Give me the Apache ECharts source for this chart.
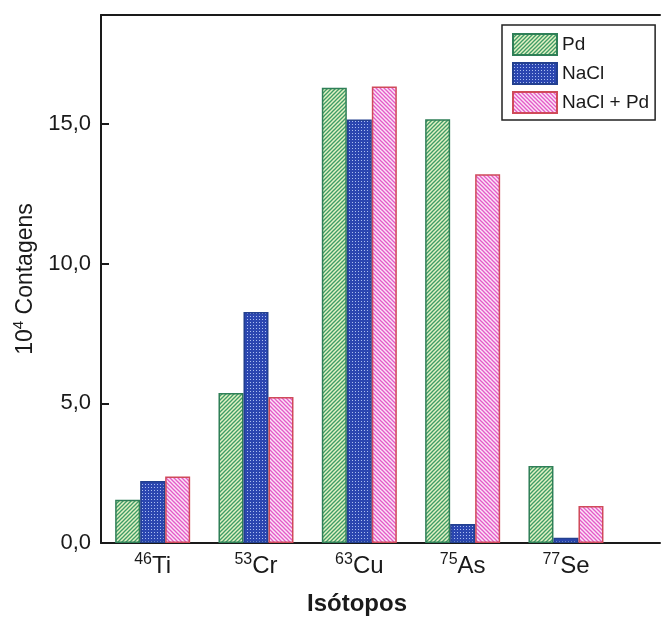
<!DOCTYPE html>
<html>
<head>
<meta charset="utf-8">
<script src="https://cdn.jsdelivr.net/npm/echarts@6/dist/echarts.min.js"></script>
<style>
  html, body { margin: 0; padding: 0; background: #fff; }
  #chart { width: 661px; height: 618px; }
</style>
</head>
<body>
<div id="chart"></div>
<script>
// isotope categories (mass number, symbol)
const isotopes = [['46', 'Ti'], ['53', 'Cr'], ['63', 'Cu'], ['75', 'As'], ['77', 'Se']];
// counts in 10^4
const pd = [1.55, 5.37, 16.3, 15.17, 2.76];
const nacl = [2.22, 8.27, 15.16, 0.68, 0.19];
const naclPd = [2.38, 5.23, 16.34, 13.2, 1.32];
const yTicks = [0, 5, 10, 15];

// small canvas patterns to mimic the hatched fills
function hatch(bg, fg, size, dir, lw) {
  const c = document.createElement('canvas');
  c.width = size; c.height = size;
  const ctx = c.getContext('2d');
  ctx.fillStyle = bg;
  ctx.fillRect(0, 0, size, size);
  ctx.strokeStyle = fg;
  ctx.lineWidth = lw;
  for (let k = -1; k <= 1; k++) {
    ctx.beginPath();
    if (dir === '/') {
      ctx.moveTo(k * size - 1, size + 1);
      ctx.lineTo(k * size + size + 1, -1);
    } else {
      ctx.moveTo(k * size - 1, -1);
      ctx.lineTo(k * size + size + 1, size + 1);
    }
    ctx.stroke();
  }
  return c;
}
function dots(bg, fg) {
  const c = document.createElement('canvas');
  c.width = 3; c.height = 3;
  const ctx = c.getContext('2d');
  ctx.fillStyle = bg;
  ctx.fillRect(0, 0, 3, 3);
  ctx.fillStyle = fg;
  ctx.fillRect(1, 1, 1, 1);
  return c;
}

const greenFill = { image: hatch('#e4f2c4', '#3f9c66', 4, '/', 1.3), repeat: 'repeat' };
const blueFill = { image: dots('#2b46b0', '#a9bdf0'), repeat: 'repeat' };
const pinkFill = { image: hatch('#fbe6f6', '#e45bc8', 4, '\\', 1.3), repeat: 'repeat' };

const toPts = arr => arr.map((v, i) => [i, v]);

const chart = echarts.init(document.getElementById('chart'));

const font = 'Liberation Sans, Arial, sans-serif';
const axisTxt = { color: '#1a1a1a', fontFamily: font };

chart.setOption({
  animation: false,
  title: {
    text: 'Isótopos',
    left: 307,
    top: 592,
    padding: 0,
    textStyle: { fontSize: 24, fontWeight: 'bold', color: '#1a1a1a', fontFamily: font }
  },
  grid: { left: 101, right: 1, top: 15, bottom: 75 },
  legend: {
    left: 502,
    top: 25,
    orient: 'vertical',
    align: 'left',
    icon: 'rect',
    padding: [8, 6, 6, 10],
    itemWidth: 44,
    itemHeight: 21,
    itemGap: 6,
    borderColor: '#222',
    borderWidth: 1.5,
    textStyle: Object.assign({ fontSize: 19, lineHeight: 21 }, axisTxt),
    data: ['Pd', 'NaCl', 'NaCl + Pd']
  },
  xAxis: [
    {
      type: 'value',
      min: -0.5,
      max: 4.91,
      interval: 0.5,
      splitLine: { show: false },
      axisTick: { show: false },
      axisLine: { onZero: false, lineStyle: { color: '#1a1a1a', width: 2 } },
      axisLabel: {
        margin: 9,
        showMinLabel: false,
        showMaxLabel: false,
        formatter: v => {
          const i = Math.round(v);
          if (!isotopes[i] || Math.abs(v - i) > 1e-6) return '';
          return '{s|' + isotopes[i][0] + '}{m|' + isotopes[i][1] + '}';
        },
        rich: {
          s: Object.assign({ fontSize: 16, verticalAlign: 'top', lineHeight: 26 }, axisTxt),
          m: Object.assign({ fontSize: 24, verticalAlign: 'bottom', lineHeight: 26 }, axisTxt)
        }
      }
    },
    {
      type: 'value',
      position: 'top',
      min: -0.5,
      max: 4.91,
      axisLine: { show: true, onZero: false, lineStyle: { color: '#1a1a1a', width: 2 } },
      axisTick: { show: false },
      axisLabel: { show: false },
      splitLine: { show: false }
    }
  ],
  yAxis: {
    type: 'value',
    min: 0,
    max: 18.9,
    interval: 5,
    splitLine: { show: false },
    axisLine: { show: true, onZero: false, lineStyle: { color: '#1a1a1a', width: 2 } },
    axisTick: { show: true, inside: true, length: 8, lineStyle: { color: '#1a1a1a', width: 2 } },
    axisLabel: {
      margin: 10,
      fontSize: 22,
      color: '#1a1a1a',
      fontFamily: font,
      showMaxLabel: false,
      formatter: v => yTicks.indexOf(v) >= 0 ? v.toFixed(1).replace('.', ',') : ''
    },
    name: '{m|10}{s|4}{m| Contagens}',
    nameLocation: 'middle',
    nameGap: 63,
    nameTextStyle: {
      rich: {
        m: Object.assign({ fontSize: 23, verticalAlign: 'bottom', lineHeight: 26 }, axisTxt),
        s: Object.assign({ fontSize: 15, verticalAlign: 'top', lineHeight: 26 }, axisTxt)
      }
    }
  },
  series: [
    {
      name: 'Pd', type: 'bar', barWidth: 25, barGap: '0%',
      itemStyle: { color: greenFill, borderColor: '#2f7f57', borderWidth: 1.5 },
      data: toPts(pd)
    },
    {
      name: 'NaCl', type: 'bar', barWidth: 25, barGap: '0%',
      itemStyle: { color: blueFill, borderColor: '#23408f', borderWidth: 1.5 },
      data: toPts(nacl)
    },
    {
      name: 'NaCl + Pd', type: 'bar', barWidth: 25, barGap: '0%',
      itemStyle: { color: pinkFill, borderColor: '#d04a5a', borderWidth: 1.5 },
      data: toPts(naclPd)
    }
  ]
});
</script>
</body>
</html>
